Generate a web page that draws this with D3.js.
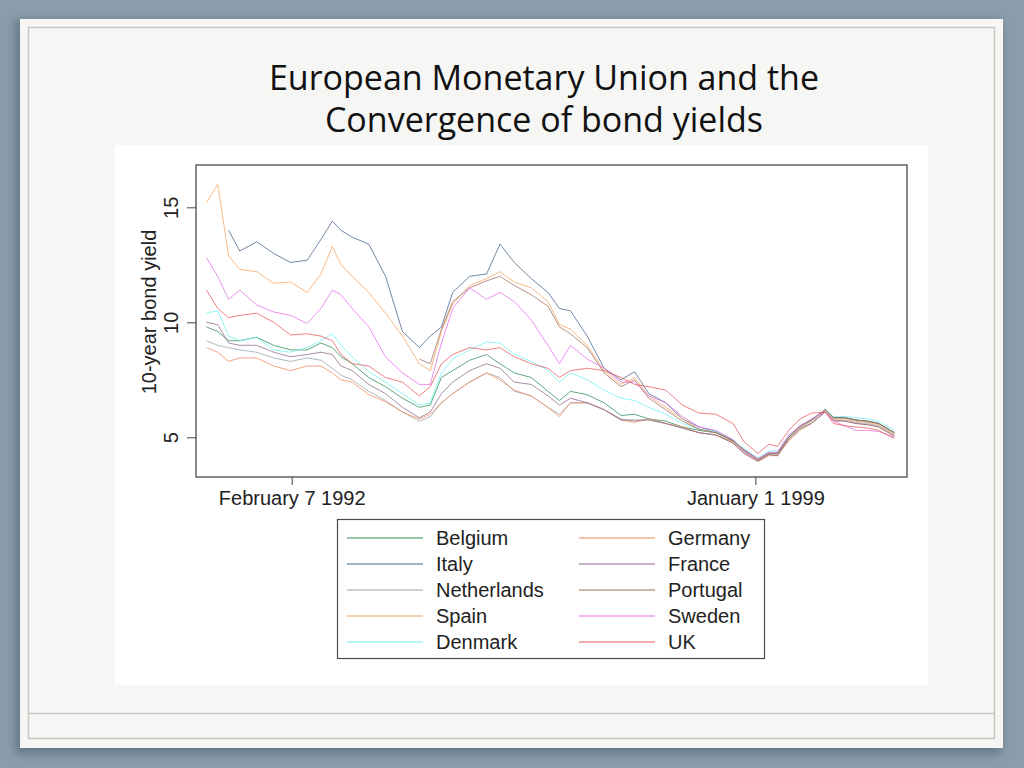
<!DOCTYPE html>
<html>
<head>
<meta charset="utf-8">
<script src="https://cdn.jsdelivr.net/npm/d3@7"></script>
<style>
  html, body { margin: 0; padding: 0; background: #8b9dab; }
  svg { display: block; }
</style>
</head>
<body>
<svg id="slide" width="1024" height="768"></svg>
<script>
// ── Data: 10-year government bond yields ──────────────────────────────────
const dates = [
  "1990-11-01","1991-01-01","1991-03-01","1991-05-01","1991-08-01","1991-11-01",
  "1992-02-01","1992-05-01","1992-07-15","1992-09-15","1992-11-01",
  "1993-01-01","1993-04-01","1993-07-01","1993-10-01",
  "1994-01-01","1994-03-01","1994-05-01","1994-07-01","1994-10-01",
  "1995-01-01","1995-03-15","1995-06-01","1995-09-01","1995-12-01",
  "1996-02-01","1996-04-01","1996-07-01","1996-10-01",
  "1997-01-01","1997-03-15","1997-06-01","1997-09-01","1997-12-01",
  "1998-03-01","1998-06-01","1998-09-01","1998-11-01",
  "1999-01-15","1999-03-15","1999-05-01","1999-07-01","1999-09-01","1999-11-01",
  "2000-01-15","2000-03-01","2000-05-01","2000-07-01","2000-09-01","2000-11-01","2001-01-25"
];

const countries = ["Belgium","Italy","Netherlands","Spain","Denmark",
                   "Germany","France","Portugal","Sweden","UK"];

const belgium = [9.8, 9.6, 9.2, 9.2, 9.35, 9.0,
  8.8, 8.8, 9.1, 8.9, 8.5,
  8.2, 7.6, 7.2, 6.7,
  6.3, 6.4, 7.6, 7.9, 8.35,
  8.6, 8.2, 7.8, 7.6, 7.0,
  6.6, 7.0, 6.85, 6.5,
  5.95, 6.0, 5.8, 5.7, 5.45,
  5.3, 5.2, 4.85, 4.4,
  4.0, 4.3, 4.3, 5.0, 5.45, 5.7,
  6.2, 5.85, 5.85, 5.75, 5.7, 5.6, 5.2];

const italy = [null, null, 14.0, 13.1, 13.5, 13.0,
  12.6, 12.7, 13.6, 14.4, 14.0,
  13.7, 13.4, 12.0, 9.6,
  8.9, 9.4, 9.8, 11.3, 12.0,
  12.1, 13.4, 12.6, 11.9, 11.3,
  10.6, 10.5, 9.4, 8.0,
  7.5, 7.85, 6.9, 6.5, 5.8,
  5.45, 5.25, 4.85, 4.45,
  4.05, 4.3, 4.3, 5.0, 5.5, 5.75,
  6.2, 5.85, 5.85, 5.75, 5.7, 5.6, 5.2];

const netherlands = [9.2, 9.0, 8.9, 8.8, 8.7, 8.45,
  8.3, 8.45, 8.35, 8.0, 7.7,
  7.5, 7.0, 6.6, 6.1,
  5.7, 5.9, 6.5, 6.9, 7.4,
  7.8, 7.6, 7.0, 6.8, 6.3,
  6.0, 6.5, 6.5, 6.2,
  5.8, 5.7, 5.8, 5.6, 5.4,
  5.2, 5.1, 4.8, 4.35,
  4.0, 4.25, 4.2, 4.9, 5.35, 5.6,
  6.1, 5.75, 5.75, 5.65, 5.6, 5.5, 5.1];

const spain = [15.2, 16.0, 12.9, 12.3, 12.2, 11.7,
  11.75, 11.3, 12.1, 13.3, 12.5,
  12.0, 11.3, 10.4, 9.4,
  8.2, 7.9, 9.6, 10.8, 11.6,
  11.9, 12.2, 11.75, 11.5, 10.9,
  9.9, 9.7, 9.0, 7.9,
  7.3, 7.6, 6.8, 6.3, 5.8,
  5.35, 5.2, 4.8, 4.4,
  4.0, 4.3, 4.25, 4.95, 5.45, 5.7,
  6.15, 5.8, 5.8, 5.7, 5.65, 5.55, 5.15];

const denmark = [10.4, 10.5, 9.4, 9.2, 9.35, 8.8,
  8.7, 8.9, 9.2, 9.5, 9.0,
  8.5, 7.85, 7.4, 6.9,
  6.4, 6.5, 7.8, 8.4, 8.8,
  9.15, 9.1, 8.6, 8.3, 7.9,
  7.4, 7.8, 7.5, 7.05,
  6.7, 6.6, 6.3, 6.0, 5.6,
  5.35, 5.25, 4.9, 4.5,
  4.1, 4.4, 4.4, 5.05, 5.5, 5.75,
  6.2, 5.9, 5.9, 5.85, 5.8, 5.7, 5.3];

const germany = [8.9, 8.7, 8.3, 8.45, 8.45, 8.1,
  7.9, 8.1, 8.1, 7.8, 7.5,
  7.4, 6.85, 6.55, 6.1,
  5.8, 6.0, 6.5, 6.9, 7.4,
  7.8, 7.5, 7.05, 6.8, 6.3,
  5.9, 6.5, 6.5, 6.2,
  5.75, 5.65, 5.8, 5.6, 5.45,
  5.2, 5.1, 4.75, 4.3,
  3.95, 4.2, 4.2, 4.85, 5.3, 5.6,
  6.1, 5.7, 5.7, 5.6, 5.55, 5.45, 5.05];

const france = [10.0, 9.9, 9.1, 9.0, 9.0, 8.7,
  8.5, 8.6, 8.7, 8.6, 8.1,
  7.9, 7.3, 6.9, 6.3,
  5.85, 6.1, 6.9, 7.4, 7.9,
  8.2, 8.0, 7.4, 7.3, 6.8,
  6.4, 6.7, 6.5, 6.2,
  5.75, 5.75, 5.75, 5.6, 5.4,
  5.2, 5.1, 4.75, 4.3,
  3.95, 4.25, 4.2, 4.9, 5.4, 5.6,
  6.1, 5.75, 5.7, 5.6, 5.55, 5.45, 5.05];

const portugal = [null, null, null, null, null, null,
  null, null, null, null, null,
  null, null, null, null,
  8.4, 8.2, 9.7, 10.9, 11.5,
  11.8, 12.0, 11.6, 11.2, 10.7,
  9.8, 9.5, 8.9, 7.8,
  7.2, 7.5, 6.7, 6.2, 5.7,
  5.35, 5.2, 4.85, 4.45,
  4.05, 4.3, 4.3, 5.0, 5.5, 5.75,
  6.2, 5.85, 5.85, 5.75, 5.7, 5.6, 5.2];

const sweden = [12.8, 12.0, 11.0, 11.4, 10.75, 10.45,
  10.3, 9.95, 10.6, 11.4, 11.2,
  10.6, 9.8, 8.5, 7.8,
  7.3, 7.3, 9.1, 10.6, 11.5,
  11.0, 11.3, 10.9, 10.1, 9.0,
  8.2, 9.0, 8.4, 8.0,
  7.4, 7.4, 6.8, 6.5, 5.9,
  5.45, 5.3, 4.9, 4.4,
  4.05, 4.35, 4.35, 5.1, 5.5, 5.8,
  6.1, 5.7, 5.5, 5.3, 5.3, 5.25, 5.0];

const uk = [11.4, 10.6, 10.2, 10.3, 10.4, 10.0,
  9.45, 9.5, 9.4, 9.2, 8.6,
  8.2, 8.1, 7.6, 7.4,
  6.8, 7.2, 8.2, 8.6, 8.9,
  8.8, 8.9, 8.5, 8.2, 8.0,
  7.6, 7.9, 8.0, 7.9,
  7.6, 7.3, 7.2, 7.05, 6.4,
  6.05, 6.0, 5.6, 4.8,
  4.3, 4.7, 4.6, 5.3, 5.8, 6.05,
  6.1, 5.6, 5.5, 5.45, 5.4, 5.3, 4.95];

const colors = ["#2e8b57","#46648a","#97a4aa","#f4a460","#6ff0ee",
                "#ee8a5c","#8c6a8c","#a0705c","#e36ee8","#e8585c"];

const xTickDates  = ["1992-02-07", "1999-01-01"];
const xTickLabels = ["February 7 1992", "January 1 1999"];
const yTicks      = [5, 10, 15];

const TITLE = ["European Monetary Union and the", "Convergence of bond yields"];
const Y_LABEL = "10-year bond yield";

// ── Layout (pixels) ───────────────────────────────────────────────────────
const PLOT = { left: 196, right: 907, top: 165, bottom: 477 };
const R_FONT = "'Liberation Sans', Arial, Helvetica, sans-serif";

const parse = d3.utcParse("%Y-%m-%d");
const seriesValues = [belgium, italy, netherlands, spain, denmark,
                      germany, france, portugal, sweden, uk];
const series = countries.map((name, i) => ({
  name, color: colors[i],
  points: dates.map((d, j) => ({ date: parse(d), v: seriesValues[i][j] }))
}));

const svg = d3.select("#slide");

// ── Slide frame ───────────────────────────────────────────────────────────
const defs = svg.append("defs");
defs.append("filter").attr("id", "shadow")
  .attr("x", "-5%").attr("y", "-5%").attr("width", "110%").attr("height", "110%")
  .append("feGaussianBlur").attr("stdDeviation", 5);

svg.append("rect").attr("width", 1024).attr("height", 768).attr("fill", "#8b9dab");
svg.append("rect")
  .attr("x", 15).attr("y", 20).attr("width", 986).attr("height", 734)
  .attr("fill", "#4e5f6b").attr("opacity", 0.6).attr("filter", "url(#shadow)");
svg.append("rect")
  .attr("x", 20).attr("y", 19).attr("width", 983).attr("height", 729)
  .attr("fill", "#f6f6f4");
svg.append("rect")
  .attr("x", 28.5).attr("y", 27.5).attr("width", 966).attr("height", 711)
  .attr("fill", "none").attr("stroke", "#c8c8c3").attr("stroke-width", 1.5);
svg.append("line")
  .attr("x1", 28.5).attr("x2", 994.5).attr("y1", 713.5).attr("y2", 713.5)
  .attr("stroke", "#c8c8c3").attr("stroke-width", 1.5);

svg.append("g").selectAll("text")
  .data(TITLE).enter().append("text")
  .attr("x", 544).attr("y", (d, i) => 90 + i * 42)
  .attr("text-anchor", "middle")
  .attr("font-family", "'Open Sans', 'Noto Sans', sans-serif")
  .attr("font-size", 34)
  .attr("fill", "#111")
  .text(d => d);

// white picture the chart sits on
svg.append("rect")
  .attr("x", 115).attr("y", 145).attr("width", 813).attr("height", 540)
  .attr("fill", "#fff");

// ── Scales ────────────────────────────────────────────────────────────────
const x = d3.scaleUtc()
  .domain([parse("1990-09-05"), parse("2001-04-04")])
  .range([PLOT.left, PLOT.right]);
const y = d3.scaleLinear()
  .domain([3.274, 16.84])
  .range([PLOT.bottom, PLOT.top]);

const chart = svg.append("g");

// ── Lines ─────────────────────────────────────────────────────────────────
const line = d3.line()
  .defined(d => d.v != null)
  .x(d => x(d.date))
  .y(d => y(d.v));

chart.append("g").selectAll("path")
  .data(series).enter().append("path")
  .attr("d", d => line(d.points))
  .attr("fill", "none")
  .attr("stroke", d => d.color)
  .attr("stroke-width", 0.85)
  .attr("stroke-opacity", 0.9)
  .attr("stroke-linejoin", "round");

// ── Axes ──────────────────────────────────────────────────────────────────
const yAxis = chart.append("g")
  .attr("transform", `translate(${PLOT.left},0)`)
  .call(d3.axisLeft(y).tickValues(yTicks).tickSize(9).tickSizeOuter(0));
yAxis.select(".domain").remove();
yAxis.selectAll("line").attr("stroke", "#444");
yAxis.selectAll("text")
  .attr("transform", "rotate(-90)")
  .attr("x", 0).attr("y", -18).attr("dy", 0)
  .attr("text-anchor", "middle")
  .attr("font-family", R_FONT).attr("font-size", 20).attr("fill", "#222");

const xAxis = chart.append("g")
  .attr("transform", `translate(0,${PLOT.bottom})`)
  .call(d3.axisBottom(x)
    .tickValues(xTickDates.map(parse))
    .tickFormat((d, i) => xTickLabels[i])
    .tickSize(8).tickSizeOuter(0));
xAxis.select(".domain").remove();
xAxis.selectAll("line").attr("stroke", "#444");
xAxis.selectAll("text")
  .attr("y", 28).attr("dy", 0)
  .attr("font-family", R_FONT).attr("font-size", 20).attr("fill", "#222");

chart.append("text")
  .attr("transform", `translate(156,${(PLOT.top + PLOT.bottom) / 2 - 9}) rotate(-90)`)
  .attr("text-anchor", "middle")
  .attr("font-family", R_FONT).attr("font-size", 20).attr("fill", "#222")
  .text(Y_LABEL);

chart.append("rect")
  .attr("x", PLOT.left).attr("y", PLOT.top)
  .attr("width", PLOT.right - PLOT.left).attr("height", PLOT.bottom - PLOT.top)
  .attr("fill", "none").attr("stroke", "#4a4a4a").attr("stroke-width", 1.3);

// ── Legend (two columns, filled down) ─────────────────────────────────────
const legend = chart.append("g");
legend.append("rect")
  .attr("x", 337.5).attr("y", 519.5).attr("width", 427).attr("height", 139)
  .attr("fill", "#fff").attr("stroke", "#4a4a4a").attr("stroke-width", 1.2);

const item = legend.selectAll("g.item")
  .data(series).enter().append("g")
  .attr("class", "item")
  .attr("transform", (d, i) =>
    `translate(${347 + Math.floor(i / 5) * 232},${538 + (i % 5) * 26})`);

item.append("line")
  .attr("x1", 0).attr("x2", 76)
  .attr("stroke", d => d.color).attr("stroke-width", 1.2);

item.append("text")
  .attr("x", 89).attr("dy", "0.35em")
  .attr("font-family", R_FONT).attr("font-size", 20).attr("fill", "#222")
  .text(d => d.name);
</script>
</body>
</html>
